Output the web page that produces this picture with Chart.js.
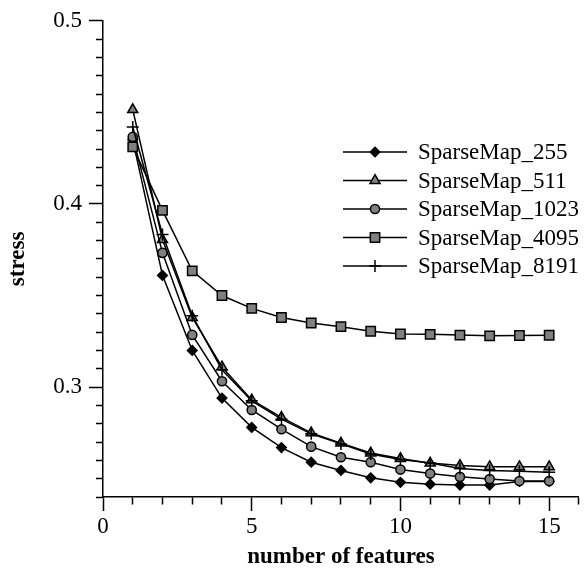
<!DOCTYPE html>
<html>
<head>
<meta charset="utf-8">
<script src="https://cdn.jsdelivr.net/npm/chart.js@4.4.1/dist/chart.umd.min.js"></script>
<style>
  html, body { margin: 0; padding: 0; background: #fff; }
  #wrap { width: 587px; height: 571px; }
</style>
</head>
<body>
<div id="wrap"><canvas id="stressChart" width="587" height="571"></canvas></div>
<script>
// number of features (x)
const features = [1, 2, 3, 4, 5, 6, 7, 8, 9, 10, 11, 12, 13, 14, 15];

// stress values
const sm255  = [0.435, 0.361, 0.320, 0.294, 0.278, 0.267, 0.259, 0.2545, 0.2505, 0.248, 0.247, 0.2465, 0.2465, 0.2485, 0.2485];
const sm511  = [0.4515, 0.3805, 0.338, 0.311, 0.293, 0.2835, 0.275, 0.2694, 0.264, 0.261, 0.2585, 0.2572, 0.2565, 0.2565, 0.2565];
const sm1023 = [0.4366, 0.3733, 0.3285, 0.3032, 0.2875, 0.277, 0.2675, 0.2617, 0.259, 0.255, 0.2528, 0.251, 0.2498, 0.2487, 0.2487];
const sm4095 = [0.4312, 0.3965, 0.3635, 0.350, 0.343, 0.338, 0.335, 0.333, 0.3305, 0.329, 0.3288, 0.3284, 0.328, 0.3282, 0.3283];
const sm8191 = [0.442, 0.3833, 0.339, 0.3095, 0.2925, 0.2825, 0.2745, 0.269, 0.2635, 0.2605, 0.2585, 0.2555, 0.2545, 0.254, 0.2535];

const seriesNames = ['SparseMap_255', 'SparseMap_511', 'SparseMap_1023', 'SparseMap_4095', 'SparseMap_8191'];

// axis ranges / ticks
const yMin = 0.24, yMax = 0.5, yStep = 0.01;
const xMin = 0, xMax = 16, xStep = 1;

const FONT = "'Liberation Serif', 'Times New Roman', serif";

function pts(vals) {
  return features.map((f, i) => ({ x: f, y: vals[i] }));
}

function makeSet(label, vals, style, radius, fill, n) {
  return {
    label: label,
    data: pts(vals),
    borderColor: '#000',
    borderWidth: 1.5,
    pointStyle: style,
    pointRadius: radius,
    pointBackgroundColor: fill,
    pointBorderColor: '#000',
    pointBorderWidth: 1.5,
    tension: 0,
    fill: false,
    clip: false,
    order: 10 - n
  };
}

const datasets = [
  makeSet(seriesNames[0], sm255, 'rectRot', 4.8, '#000', 0),
  makeSet(seriesNames[1], sm511, 'triangle', 5.8, '#808080', 1),
  makeSet(seriesNames[2], sm1023, 'circle', 4.6, '#808080', 2),
  makeSet(seriesNames[3], sm4095, 'rect', 6.6, '#808080', 3),
  makeSet(seriesNames[4], sm8191, 'cross', 6, '#808080', 4)
];

// legend drawn inside the plot, line + marker like the original
const legendBox = { x: 343, y: 152, lineLen: 64, gap: 11, rowH: 28.5 };

const insideLegend = {
  id: 'insideLegend',
  afterDraw(chart) {
    const ctx = chart.ctx;
    chart.data.datasets.forEach((ds, i) => {
      const y = legendBox.y + i * legendBox.rowH;
      ctx.save();
      ctx.strokeStyle = '#000';
      ctx.lineWidth = 1.5;
      ctx.beginPath();
      ctx.moveTo(legendBox.x, y);
      ctx.lineTo(legendBox.x + legendBox.lineLen, y);
      ctx.stroke();
      ctx.fillStyle = ds.pointBackgroundColor;
      ctx.strokeStyle = ds.pointBorderColor;
      ctx.lineWidth = ds.pointBorderWidth;
      Chart.helpers.drawPoint(ctx, {
        pointStyle: ds.pointStyle,
        radius: ds.pointRadius,
        borderWidth: ds.pointBorderWidth,
        rotation: 0
      }, legendBox.x + legendBox.lineLen / 2, y);
      ctx.fillStyle = '#000';
      ctx.font = '23px ' + FONT;
      ctx.textBaseline = 'middle';
      ctx.textAlign = 'left';
      ctx.fillText(ds.label, legendBox.x + legendBox.lineLen + legendBox.gap, y + 1);
      ctx.restore();
    });
  }
};

function isMajor(v, every) {
  return Math.abs(v / every - Math.round(v / every)) < 1e-6;
}

const ctx = document.getElementById('stressChart').getContext('2d');

const chart = new Chart(ctx, {
  type: 'line',
  data: { datasets: datasets },
  options: {
    responsive: false,
    animation: false,
    events: [],
    layout: { padding: { top: 16, right: 4, left: 0, bottom: 0 } },
    plugins: {
      legend: { display: false },
      tooltip: { enabled: false }
    },
    scales: {
      x: {
        type: 'linear',
        min: xMin,
        max: xMax,
        border: { color: '#000', width: 1.5 },
        grid: {
          drawOnChartArea: false,
          color: '#000',
          tickColor: '#000',
          tickWidth: 1.5,
          tickLength: 14,
          tickBorderDash: (c) => isMajor(c.tick.value, 5) ? [] : [7, 7]
        },
        ticks: {
          stepSize: xStep,
          autoSkip: false,
          maxRotation: 0,
          padding: 2,
          color: '#000',
          font: { family: FONT, size: 23 },
          callback: (v) => isMajor(v, 5) ? String(v) : ''
        },
        title: {
          display: true,
          text: 'number of features',
          color: '#000',
          font: { family: FONT, size: 23, weight: 'bold' },
          padding: { top: 0, bottom: 0 }
        },
        afterFit: (scale) => { scale.height = 74; }
      },
      y: {
        type: 'linear',
        min: yMin,
        max: yMax,
        border: { color: '#000', width: 1.5 },
        grid: {
          drawOnChartArea: false,
          color: '#000',
          tickColor: '#000',
          tickWidth: 1.5,
          tickLength: 14,
          tickBorderDash: (c) => isMajor(c.tick.value, 0.1) ? [] : [0, 7, 7]
        },
        ticks: {
          stepSize: yStep,
          autoSkip: false,
          padding: 7,
          color: '#000',
          font: { family: FONT, size: 23 },
          callback: (v) => isMajor(v, 0.1) ? v.toFixed(1) : ''
        },
        title: {
          display: true,
          text: 'stress',
          color: '#000',
          font: { family: FONT, size: 23, weight: 'bold' },
          padding: { top: 4, bottom: 0 }
        },
        afterFit: (scale) => { scale.width = 103; }
      }
    }
  },
  plugins: [insideLegend]
});
</script>
</body>
</html>
